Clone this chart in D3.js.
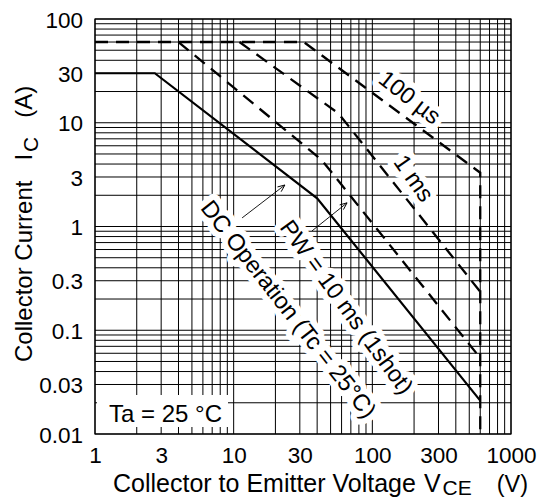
<!DOCTYPE html>
<html>
<head>
<meta charset="utf-8">
<script src="https://d3js.org/d3.v7.min.js"></script>
<style>
  body { margin: 0; background: #fff; }
  text { font-family: "Liberation Sans", Arial, sans-serif; fill: #000; }
</style>
</head>
<body>
<svg width="540" height="500"></svg>
<script>
// tick labels
var xTicks = [1, 3, 10, 30, 100, 300, 1000];
var yTicks = [0.01, 0.03, 0.1, 0.3, 1, 3, 10, 30, 100];

// safe operating area curves, Vce (V) and Ic (A)
var dcVce = [1, 2.7, 40, 600];
var dcIc = [30, 30, 1.87, 0.021];
var ms10Vce = [4, 43, 600];
var ms10Ic = [60, 4.4, 0.054];
var ms1Vce = [11, 57, 600];
var ms1Ic = [60, 12.3, 0.235];
var us100Vce = [1, 32, 600, 600];
var us100Ic = [60, 60, 3.3, 0.01];

// curve labels: text, Vce, Ic, angle
var labels = [
  ["100 µs", 187, 17.7, 38],
  ["1 ms", 200, 2.93, 55],
  ["DC Operation (Tc = 25°C)", 25, 0.16, 52],
  ["PW = 10 ms (1shot)", 65.6, 0.168, 54]
];
// arrows from label to curve: [Vce0, Ic0, Vce1, Ic1]
var arrows = [
  [11.5, 1.21, 23.4, 2.51],
  [36.7, 0.906, 65.7, 1.69]
];

var svg = d3.select("svg");
var x = d3.scaleLog().domain([1, 1000]).range([95, 511]);
var y = d3.scaleLog().domain([0.01, 100]).range([434, 19]);

// grid
var grid = svg.append("g").attr("stroke", "#000").attr("stroke-width", 1);
grid.selectAll(".vx").data(x.ticks()).enter().append("line")
    .attr("x1", d => x(d)).attr("x2", d => x(d))
    .attr("y1", y(0.01)).attr("y2", y(100));
grid.selectAll(".hy").data(y.ticks()).enter().append("line")
    .attr("y1", d => y(d)).attr("y2", d => y(d))
    .attr("x1", x(1)).attr("x2", x(1000));
svg.append("rect")
   .attr("x", x(1)).attr("y", y(100))
   .attr("width", x(1000) - x(1)).attr("height", y(0.01) - y(100))
   .attr("fill", "none").attr("stroke", "#000").attr("stroke-width", 1.2);

// axes
var fmt = d3.format("~g");
var xAxis = svg.append("g").attr("transform", "translate(0," + y(0.01) + ")")
    .call(d3.axisBottom(x).tickValues(xTicks).tickFormat(fmt).tickSize(0));
xAxis.select(".domain").remove();
xAxis.selectAll("text").attr("y", 29).attr("dy", 0).attr("font-size", 22.5)
     .attr("font-family", "Liberation Sans, Arial, sans-serif");

var yAxis = svg.append("g").attr("transform", "translate(" + x(1) + ",0)")
    .call(d3.axisLeft(y).tickValues(yTicks).tickFormat(fmt).tickSize(0));
yAxis.select(".domain").remove();
yAxis.selectAll("text").attr("x", -12).attr("dy", "0.36em").attr("font-size", 22.5)
     .attr("font-family", "Liberation Sans, Arial, sans-serif");

// label halos and text
labels.forEach(function(l) {
  svg.append("text")
     .attr("transform", "translate(" + x(l[1]) + "," + y(l[2]) + ") rotate(" + l[3] + ")")
     .attr("text-anchor", "middle").attr("dy", "0.35em").attr("font-size", 23.5)
     .attr("stroke", "#fff").attr("stroke-width", 12).attr("stroke-linejoin", "round")
     .attr("paint-order", "stroke")
     .text(l[0]);
});

// Ta box
svg.append("rect").attr("x", 97).attr("y", 395).attr("width", 131).attr("height", 32).attr("fill", "#fff");
svg.append("text").attr("x", 165.5).attr("y", 422).attr("text-anchor", "middle")
   .attr("font-size", 24).text("Ta = 25 °C");

// arrows
svg.append("defs").append("marker")
   .attr("id", "arr").attr("viewBox", "-8 -4 9 8").attr("refX", 0).attr("refY", 0)
   .attr("markerWidth", 9).attr("markerHeight", 8).attr("markerUnits", "userSpaceOnUse")
   .attr("orient", "auto")
   .append("path").attr("d", "M-7,-3L0,0L-7,3").attr("fill", "none").attr("stroke", "#000").attr("stroke-width", 0.9);
svg.selectAll(".arrow").data(arrows).enter().append("line")
   .attr("x1", d => x(d[0])).attr("y1", d => y(d[1]))
   .attr("x2", d => x(d[2])).attr("y2", d => y(d[3]))
   .attr("stroke", "#000").attr("stroke-width", 0.9).attr("marker-end", "url(#arr)");

// curves
var line = d3.line().x(d => x(d[0])).y(d => y(d[1]));
function curve(vs, is, dash) {
  svg.append("path")
     .datum(d3.zip(vs, is))
     .attr("d", line)
     .attr("fill", "none").attr("stroke", "#000")
     .attr("stroke-width", dash ? 2.3 : 2.2)
     .attr("stroke-dasharray", dash ? "13,8" : null);
}
curve(dcVce, dcIc, false);
curve(ms10Vce, ms10Ic, true);
curve(ms1Vce, ms1Ic, true);
curve(us100Vce, us100Ic, true);

// axis titles
var yt = svg.append("text").attr("transform", "translate(32,362) rotate(-90)").attr("font-size", 24);
yt.append("tspan").text("Collector Current");
yt.append("tspan").attr("dx", 20).text("I");
yt.append("tspan").attr("dx", 2).attr("dy", 6).attr("font-size", 21).text("C");
yt.append("tspan").attr("dx", 19).attr("dy", -6).text("(A)");

var xt = svg.append("text").attr("x", 113).attr("y", 492).attr("font-size", 25);
xt.append("tspan").text("Collector to Emitter Voltage");
xt.append("tspan").attr("dx", 8).text("V");
xt.append("tspan").attr("dx", 2).attr("dy", 3).attr("font-size", 21).text("CE");
xt.append("tspan").attr("dx", 25).attr("dy", -3).attr("font-size", 23.5).text("(V)");
</script>
</body>
</html>
